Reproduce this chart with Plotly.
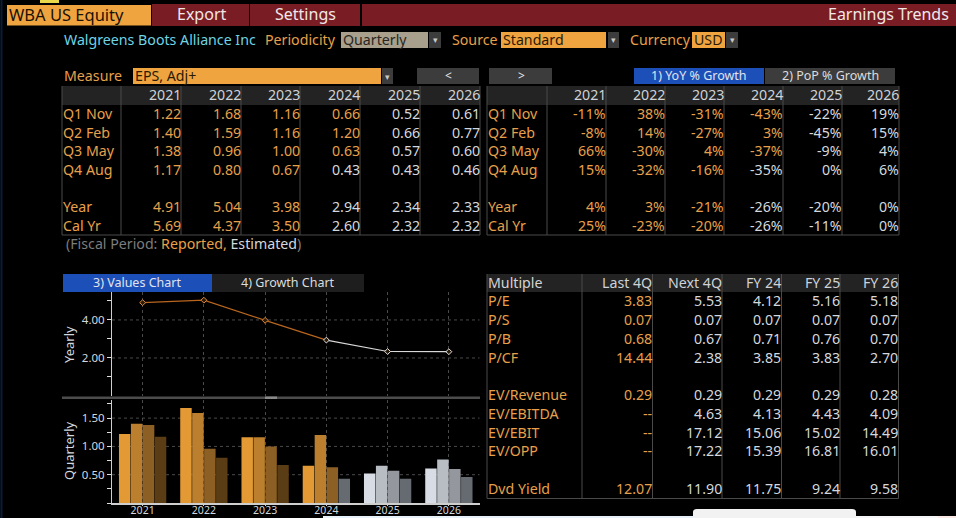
import plotly.graph_objects as go

# ---------- data ----------
years = ["2021", "2022", "2023", "2024", "2025", "2026"]
quarter_labels = ["Q1 Nov", "Q2 Feb", "Q3 May", "Q4 Aug"]
q1_values = [1.22, 1.68, 1.16, 0.66, 0.52, 0.61]
q2_values = [1.40, 1.59, 1.16, 1.20, 0.66, 0.77]
q3_values = [1.38, 0.96, 1.00, 0.63, 0.57, 0.60]
q4_values = [1.17, 0.80, 0.67, 0.43, 0.43, 0.46]
year_values = [4.91, 5.04, 3.98, 2.94, 2.34, 2.33]
calyr_values = [5.69, 4.37, 3.50, 2.60, 2.32, 2.32]
q1_yoy = [-11, 38, -31, -43, -22, 19]
q2_yoy = [-8, 14, -27, 3, -45, 15]
q3_yoy = [66, -30, 4, -37, -9, 4]
q4_yoy = [15, -32, -16, -35, 0, 6]
year_yoy = [4, 3, -21, -26, -20, 0]
calyr_yoy = [25, -23, -20, -26, -11, 0]
# number of reported (orange) years per row: Q1,Q2,Q3,Q4,Year,CalYr
reported_counts = [4, 4, 4, 3, 3, 3]
multiple_cols = ["Last 4Q", "Next 4Q", "FY 24", "FY 25", "FY 26"]
multiple_rows = [
    ("P/E", ["3.83", "5.53", "4.12", "5.16", "5.18"]),
    ("P/S", ["0.07", "0.07", "0.07", "0.07", "0.07"]),
    ("P/B", ["0.68", "0.67", "0.71", "0.76", "0.70"]),
    ("P/CF", ["14.44", "2.38", "3.85", "3.83", "2.70"]),
    None,
    ("EV/Revenue", ["0.29", "0.29", "0.29", "0.29", "0.28"]),
    ("EV/EBITDA", ["--", "4.63", "4.13", "4.43", "4.09"]),
    ("EV/EBIT", ["--", "17.12", "15.06", "15.02", "14.49"]),
    ("EV/OPP", ["--", "17.22", "15.39", "16.81", "16.01"]),
    None,
    ("Dvd Yield", ["12.07", "11.90", "11.75", "9.24", "9.58"]),
]

# ---------- style ----------
W, H = 956, 518
FONT = "Noto Sans"
ORANGE = "#e8a04a"
WHITE = "#d4d8de"
BTN = "#3c3c3c"
HDR = "#232323"
RED = "#7a1c24"
AMBER = "#f0a440"
GRID = "#4a4a4a"

shapes, annos = [], []


def px(x):
    return x / W


def py(y):
    return 1 - y / H


def rect(x0, y0, x1, y1, fill, line=None, layer="below"):
    shapes.append(dict(type="rect", xref="paper", yref="paper", x0=px(x0), x1=px(x1),
                       y0=py(y0), y1=py(y1), fillcolor=fill, layer=layer,
                       line=dict(width=1 if line else 0, color=line or fill)))


def hline(x0, x1, y, color=GRID, width=1, dash=None):
    shapes.append(dict(type="line", xref="paper", yref="paper", x0=px(x0), x1=px(x1),
                       y0=py(y), y1=py(y), layer="below",
                       line=dict(color=color, width=width, dash=dash or "solid")))


def vline(x, y0, y1, color=GRID, width=1):
    shapes.append(dict(type="line", xref="paper", yref="paper", x0=px(x), x1=px(x),
                       y0=py(y0), y1=py(y1), layer="below", line=dict(color=color, width=width)))


def text(x, y, s, color=ORANGE, size=14.2, anchor="left"):
    # annotations carry about 1.5 px of inner padding; compensate so x is the ink edge
    dx = {"left": -1.5, "right": 1.5, "center": 0}[anchor]
    annos.append(dict(x=px(x + dx), y=py(y - 0.7), xref="paper", yref="paper", text=s, showarrow=False,
                      xanchor=anchor, yanchor="middle", align=anchor, borderpad=0,
                      font=dict(family=FONT, size=size, color=color)))


def arrow_btn(x0, x1, y0=32, y1=48):
    rect(x0, y0, x1, y1, BTN)
    text((x0 + x1) / 2, (y0 + y1) / 2 + 0.7, "▾", "#c8c8c8", 9, "center")


# --- top strip ---
rect(0, 0, W, 4, "#000000")
rect(40, 0, 59, 3, "#e8d84a")
rect(7, 5, 151, 25.5, AMBER)
rect(152, 4, 249, 26, RED)
rect(250, 4, 360, 26, RED)
rect(362, 4, W, 26, RED)
text(9, 15, "WBA US Equity", "#1a1206", 16.5)
text(201, 15, "Export", "#f0e8e8", 16, "center")
text(305, 15, "Settings", "#f0e8e8", 16, "center")
text(948, 15, "Earnings Trends", "#f0e8e8", 16, "right")
vline(1.5, 0, 518, "#0b1c3a", 2)

# --- selector row ---
text(64, 40, "Walgreens Boots Alliance Inc", "#6fd4e4")
text(265, 40, "Periodicity", ORANGE)
rect(341, 32, 428, 48, "#a89f8c")
text(343, 40, "Quarterly", "#2a261e")
arrow_btn(429, 441)
text(452, 40, "Source", ORANGE)
rect(501, 32, 606, 48, AMBER)
text(503, 40, "Standard", "#2a1a06")
arrow_btn(608, 619)
text(630, 40, "Currency", ORANGE)
rect(692, 32, 725, 48, AMBER)
text(694, 40, "USD", "#2a1a06")
arrow_btn(726, 738)

# --- measure row ---
text(64, 76, "Measure", ORANGE)
rect(133, 68, 381, 84, AMBER)
text(135, 76, "EPS, Adj+", "#2a1a06")
arrow_btn(382, 393, 68, 84)
rect(417, 68, 479, 84, BTN)
text(448, 76, "<", "#e8e8e8", 12, "center")
rect(489, 68, 552, 84, BTN)
text(521, 76, ">", "#e8e8e8", 12, "center")
rect(634, 68, 764, 84, "#1c4fb8")
text(699, 76, "1) YoY % Growth", "#e0e4ec", 12.5, "center")
rect(765, 68, 895, 84, BTN)
text(830, 76, "2) PoP % Growth", "#dcdcdc", 12.5, "center")

# --- growth / value tables ---
row_y = [114, 133, 151, 170, 207, 226]
row_names = quarter_labels + ["Year", "Cal Yr"]
value_rows = [q1_values, q2_values, q3_values, q4_values, year_values, calyr_values]
yoy_rows = [q1_yoy, q2_yoy, q3_yoy, q4_yoy, year_yoy, calyr_yoy]


def table_frame(left, dividers, top, head_bottom, bottom):
    rect(left, top, dividers[-1], head_bottom, HDR)
    hline(left, dividers[-1], bottom)
    vline(left, top, bottom)
    for d in dividers:
        vline(d, top, bottom)


left_div = [121, 181, 241, 300, 360, 420, 480]
table_frame(62, left_div, 86, 105, 235)
for j, yr in enumerate(years):
    text(left_div[j + 1] - 1, 95.5, yr, "#cfd2d6", anchor="right")
for i, (name, y, vals) in enumerate(zip(row_names, row_y, value_rows)):
    text(63, y, name, ORANGE)
    for j, v in enumerate(vals):
        col = ORANGE if j < reported_counts[i] else WHITE
        text(left_div[j + 1] - 1, y, f"{v:.2f}", col, anchor="right")

right_div = [547, 606, 665, 724, 783, 842, 899]
table_frame(487, right_div, 86, 105, 235)
for j, yr in enumerate(years):
    text(right_div[j + 1] - 1, 95.5, yr, "#cfd2d6", anchor="right")
for i, (name, y, vals) in enumerate(zip(row_names, row_y, yoy_rows)):
    text(488, y, name, ORANGE)
    for j, v in enumerate(vals):
        col = ORANGE if j < reported_counts[i] else WHITE
        text(right_div[j + 1] - 1, y, f"{v}%", col, anchor="right")

# fiscal note
annos.append(dict(x=px(63.5), y=py(243.5), xref="paper", yref="paper", showarrow=False,
                  xanchor="left", yanchor="middle",
                  text="<span style='color:#7c7c7c'>(Fiscal Period: </span>"
                       f"<span style='color:{ORANGE}'>Reported, </span>"
                       f"<span style='color:{WHITE}'>Estimated</span>"
                       "<span style='color:#7c7c7c'>)</span>",
                  font=dict(family=FONT, size=14.2)))

# --- chart tabs ---
rect(63, 274, 212, 292, "#1c4fb8")
text(137, 283, "3) Values Chart", "#e0e4ec", 12.5, "center")
rect(212, 274, 364, 292, "#1e1e1e")
text(288, 283, "4) Growth Chart", "#dcdcdc", 12.5, "center")

# splitter
rect(62, 396.5, 480, 399, "#4c4c4c")
rect(265, 396.5, 277, 399, "#8a8a8a")

annos.append(dict(x=px(69), y=py(345), xref="paper", yref="paper", text="Yearly", showarrow=False,
                  xanchor="center", yanchor="middle", textangle=-90,
                  font=dict(family=FONT, size=13, color=WHITE)))
annos.append(dict(x=px(69), y=py(451), xref="paper", yref="paper", text="Quarterly", showarrow=False,
                  xanchor="center", yanchor="middle", textangle=-90,
                  font=dict(family=FONT, size=13, color=WHITE)))

# --- multiples table ---
mul_div = [582, 652.5, 722, 781.5, 840, 898.5]
table_frame(487, mul_div, 274, 292, 498.5)
text(488, 283, "Multiple", "#d4d4d4")
for j, c in enumerate(multiple_cols):
    text(mul_div[j + 1] - 1, 283, c, "#cfd2d6", anchor="right")
mul_y = [301.5, 320, 339, 358, 376.5, 395, 414.5, 433, 451.5, 470, 489]
for y, row in zip(mul_y, multiple_rows):
    if row is None:
        continue
    name, vals = row
    text(488, y, name, ORANGE)
    for j, v in enumerate(vals):
        text(mul_div[j + 1] - 1, y, v, ORANGE if j == 0 else WHITE, anchor="right")

# --- bottom artefacts ---
rect(323, 516, 757, 518, "#e6f1fa")
rect(757, 516, 938, 518, "#f4f6f8")
rect(938, 516, W, 518, "#fbe9e6")
shapes.append(dict(type="path", xref="paper", yref="paper", layer="below",
                   path=f"M {px(693)} {py(518)} L {px(693)} {py(512)} Q {px(693)} {py(509)} {px(697)} {py(509)} "
                        f"L {px(852)} {py(509)} Q {px(856)} {py(509)} {px(856)} {py(512)} L {px(856)} {py(518)} Z",
                   fillcolor="#f2f2f2", line=dict(width=0)))

# ---------- charts ----------
fig = go.Figure()

q_colors_rep = ["#e39a35", "#bb7f2d", "#8c5f24", "#5a3d14"]
q_colors_est = ["#d8dde5", "#b8bdc4", "#94989e", "#666b72"]
for k, vals in enumerate([q1_values, q2_values, q3_values, q4_values]):
    colors = [q_colors_rep[k] if j < reported_counts[k] else q_colors_est[k] for j in range(len(years))]
    fig.add_trace(go.Bar(x=years, y=vals, name=quarter_labels[k], marker=dict(color=colors, line=dict(width=0)),
                         xaxis="x2", yaxis="y2", showlegend=False))

n_rep = reported_counts[4]
fig.add_trace(go.Scatter(x=years[:n_rep + 1], y=year_values[:n_rep + 1], mode="lines",
                         line=dict(color="#b8651e", width=1.2), xaxis="x", yaxis="y", showlegend=False))
fig.add_trace(go.Scatter(x=years[n_rep:], y=year_values[n_rep:], mode="lines",
                         line=dict(color="#d8d8d8", width=1.2), xaxis="x", yaxis="y", showlegend=False))
fig.add_trace(go.Scatter(x=years, y=year_values, mode="markers", xaxis="x", yaxis="y", showlegend=False,
                         marker=dict(symbol="diamond", size=4.5, color="#2a1a08",
                                     line=dict(width=1, color=["#e08a3a"] * n_rep + ["#e4e4e4"] * (len(years) - n_rep)))))

axis_common = dict(showline=True, linecolor="#cfcfcf", linewidth=1, ticks="outside", tickcolor="#e0e0e0",
                   ticklen=4, tickfont=dict(family=FONT, size=11.5, color=WHITE), automargin=False,
                   showgrid=False, zeroline=False)
fig.update_layout(
    width=W, height=H, margin=dict(l=0, r=0, t=0, b=0), autosize=False,
    paper_bgcolor="#000000", plot_bgcolor="rgba(0,0,0,0)",
    barmode="group", bargap=0.22, bargroupgap=0.04,
    shapes=shapes, annotations=annos,
    xaxis=dict(domain=[px(112), px(479.5)], anchor="y", type="category", range=[-0.5, 5.5],
               categoryorder="array", categoryarray=years, automargin=False,
               showticklabels=False, showgrid=True, griddash="dot", gridcolor="#4a4a4a", ticks="",
               showline=False, zeroline=False),
    yaxis=dict(domain=[py(396), py(292)], anchor="x", range=[0, 5.47], tickvals=[1, 2, 3, 4, 5],
               ticktext=["", "2.00", "", "4.00", ""], **axis_common),
    xaxis2=dict(domain=[px(112), px(479.5)], anchor="y2", type="category", range=[-0.5, 5.5],
                categoryorder="array", categoryarray=years, showline=True, linecolor="#cfcfcf", linewidth=1.5,
                ticks="outside", ticklen=1, tickcolor="#cfcfcf", showgrid=True, griddash="dot", gridcolor="#4a4a4a",
                zeroline=False, automargin=False, ticklabelstandoff=-4,
                tickfont=dict(family=FONT, size=10.5, color=WHITE)),
    yaxis2=dict(domain=[py(503), py(400)], anchor="x2", range=[0, 1.82],
                tickvals=[0, 0.25, 0.5, 0.75, 1, 1.25, 1.5, 1.75],
                ticktext=["", "", "0.50", "", "1.00", "", "1.50", ""], **axis_common),
)
for ref, vals in (("y", [2, 4]), ("y2", [0.5, 1.0, 1.5])):
    xr = "x domain" if ref == "y" else "x2 domain"
    for v in vals:
        fig.add_shape(type="line", xref=xr, yref=ref, x0=0, x1=1, y0=v, y1=v, layer="below",
                      line=dict(color="#4a4a4a", width=1, dash="dot"))

fig.write_html("out.html", config={"displayModeBar": False},
               post_script="document.body.style.margin='0';document.body.style.background='#000';")
